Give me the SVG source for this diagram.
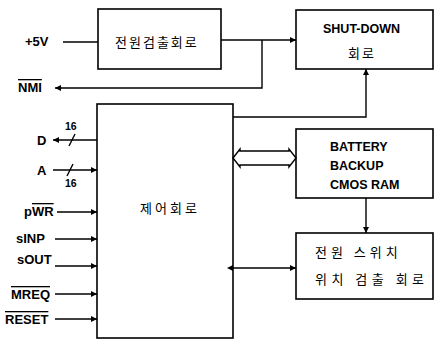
<svg xmlns="http://www.w3.org/2000/svg" width="435" height="343" viewBox="0 0 435 343">
<style>
.box{fill:#fff;stroke:#000;stroke-width:1.6}
.ln{fill:none;stroke:#000;stroke-width:1.4}
.lbl{font-family:"Liberation Sans",Arial,sans-serif;font-weight:bold;font-size:13px;fill:#000}
.kr{font-family:"Noto Sans CJK KR","Noto Sans",sans-serif;font-size:13px;fill:#000;letter-spacing:2px}
.en{font-family:"Liberation Sans",Arial,sans-serif;font-size:12.5px;fill:#000;font-weight:bold}
.ov{text-decoration:overline}
</style>
<defs>
<marker id="ah" viewBox="0 0 10 10" refX="10" refY="5" markerWidth="8" markerHeight="6" markerUnits="userSpaceOnUse" orient="auto">
<path d="M0,0 L10,5 L0,10 Z" fill="#000"/>
</marker>
<marker id="ahs" viewBox="0 0 10 10" refX="0" refY="5" markerWidth="8" markerHeight="6" markerUnits="userSpaceOnUse" orient="auto-start-reverse">
<path d="M0,0 L10,5 L0,10 Z" fill="#000"/>
</marker>
</defs>
<g id="power-detect">
<rect class="box" x="98" y="9" width="123" height="60"/>
<text class="kr" x="115" y="47">전원검출회로</text>
</g>
<g id="shutdown">
<rect class="box" x="296" y="10" width="137" height="59"/>
<text class="en" x="323" y="33">SHUT-DOWN</text>
<text class="kr" x="348" y="58">회로</text>
</g>
<g id="control">
<rect class="box" x="97" y="104" width="136" height="234"/>
<text class="kr" x="140" y="213" style="letter-spacing:3px">제어회로</text>
</g>
<g id="battery-ram">
<rect class="box" x="296" y="129" width="137" height="69"/>
<text class="en" x="330" y="151">BATTERY</text>
<text class="en" x="330" y="170">BACKUP</text>
<text class="en" x="330" y="189">CMOS RAM</text>
</g>
<g id="switch-detect">
<rect class="box" x="296" y="233" width="137" height="66"/>
<text class="kr" x="315" y="257" style="letter-spacing:4px">전원 스위치</text>
<text class="kr" x="315" y="284" style="letter-spacing:4.5px">위치 검출 회로</text>
</g>
<g id="labels">
<text class="lbl" x="25" y="46">+5V</text>
<text class="lbl" x="18" y="92"><tspan class="ov">NMI</tspan></text>
<text class="lbl" x="37" y="145">D</text>
<text class="lbl" x="65" y="130" style="font-size:10.5px">16</text>
<text class="lbl" x="37" y="175">A</text>
<text class="lbl" x="65" y="187" style="font-size:10.5px">16</text>
<text class="lbl" x="24" y="216">p<tspan class="ov">WR</tspan></text>
<text class="lbl" x="16" y="243">sINP</text>
<text class="lbl" x="17" y="264">sOUT</text>
<text class="lbl" x="11" y="299"><tspan class="ov">MREQ</tspan></text>
<text class="lbl" x="5" y="324"><tspan class="ov">RESET</tspan></text>
</g>
<g id="connectors">
<path class="ln" d="M63,42 H98"/>
<path class="ln" d="M221,40 H296" marker-end="url(#ah)"/>
<path class="ln" d="M262,40 V88 H55" marker-end="url(#ah)"/>
<path class="ln" d="M233,117 H366 V69" marker-end="url(#ah)"/>
<path class="ln" d="M97,140 H53" marker-end="url(#ah)"/>
<path class="ln" d="M69,146 L75,134"/>
<path class="ln" d="M53,170 H97" marker-end="url(#ah)"/>
<path class="ln" d="M67,176 L73,164"/>
<path class="ln" d="M57,212 H97" marker-end="url(#ah)"/>
<path class="ln" d="M55,239 H97" marker-end="url(#ah)"/>
<path class="ln" d="M55,266 H97" marker-end="url(#ah)"/>
<path class="ln" d="M55,294 H97" marker-end="url(#ah)"/>
<path class="ln" d="M55,319 H97" marker-end="url(#ah)"/>
<path class="ln" d="M233,158 L240,149 L240,151 L289,151 L289,149 L296,158 L289,167 L289,165 L240,165 L240,167 Z"/>
<path class="ln" d="M366,198 V233" marker-end="url(#ah)"/>
<path class="ln" d="M233,268 H296" marker-start="url(#ahs)" marker-end="url(#ah)"/>
</g>
</svg>
